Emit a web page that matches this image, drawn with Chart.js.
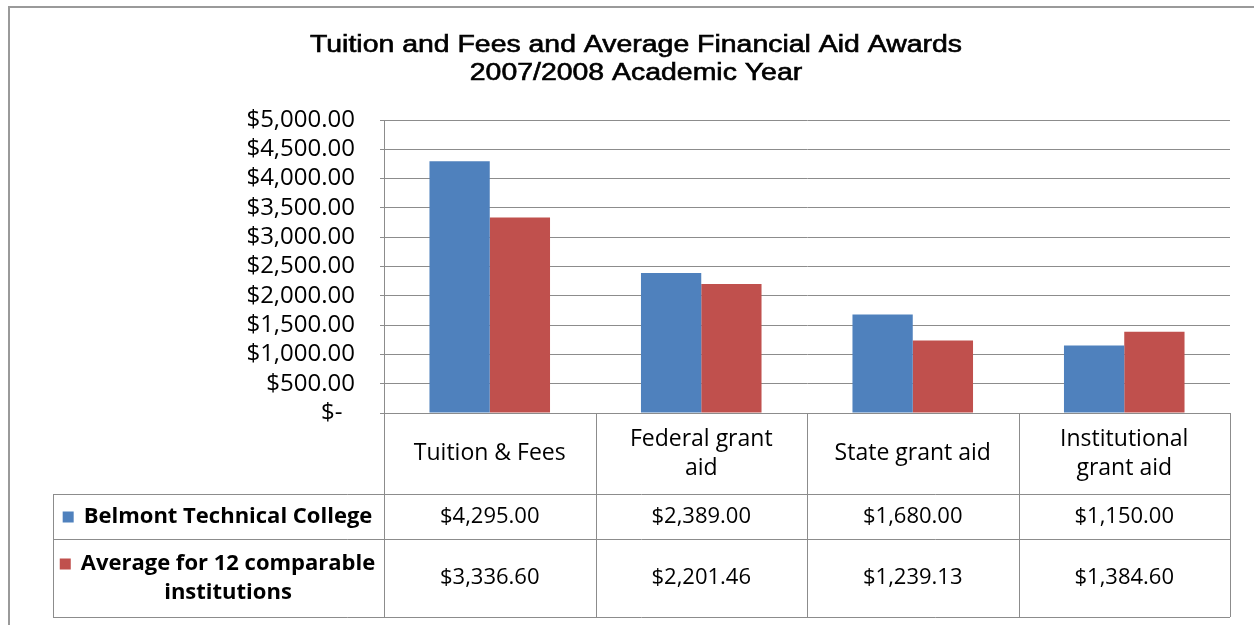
<!DOCTYPE html>
<html>
<head>
<meta charset="utf-8">
<title>Tuition and Fees and Average Financial Aid Awards</title>
<script src="https://cdn.jsdelivr.net/npm/chart.js@4"></script>
<style>
  html, body { margin:0; padding:0; background:#fff; }
  #wrap { position:relative; width:1254px; height:625px; }
  #frame { position:absolute; left:8px; top:6px; width:1260px; height:640px; border:2px solid #9a9a9a; border-right:none; border-bottom:none; box-sizing:border-box; }
  canvas { position:absolute; left:0; top:0; }
</style>
</head>
<body>
<div id="wrap">
  <div id="frame"></div>
  <canvas id="chart" width="1254" height="625"></canvas>
</div>
<script>
// ── data ────────────────────────────────────────────────────────────────────
const TITLE = ["Tuition and Fees and Average Financial Aid Awards", "2007/2008 Academic Year"];
const CATEGORIES = [["Tuition & Fees"], ["Federal grant", "aid"], ["State grant aid"], ["Institutional", "grant aid"]];
const SERIES_NAMES = [["Belmont Technical College"], ["Average for 12 comparable", "institutions"]];
const BELMONT = [4295.00, 2389.00, 1680.00, 1150.00];
const AVERAGE = [3336.60, 2201.46, 1239.13, 1384.60];
const COLORS = ["#4f81bd", "#c0504d"];
const Y_MAX = 5000, Y_STEP = 500;

const GRID = "#8c8c8c";
const TEXT = "#000";
const money = v => "$" + v.toLocaleString("en-US", { minimumFractionDigits:2, maximumFractionDigits:2 });

// row layout of the data table under the plot (offsets from the x axis)
const ROW_H = [81, 45, 78];
const LABEL_LEFT = 53;

const tablePlugin = {
  id: "dataTable",
  afterDraw(chart){
    const { ctx, chartArea: a, scales:{ x } } = chart;
    const n = CATEGORIES.length;
    const w = (a.right - a.left) / n;
    const y0 = a.bottom, y1 = y0 + ROW_H[0], y2 = y1 + ROW_H[1], y3 = y2 + ROW_H[2];
    ctx.save();

    // title (the source picture is a bit stretched sideways)
    ctx.fillStyle = TEXT;
    ctx.textAlign = "center"; ctx.textBaseline = "middle";
    ctx.font = "23px 'Liberation Sans', Arial, sans-serif";
    const sx = 652 / ctx.measureText(TITLE[0]).width;
    ctx.save();
    ctx.translate(636, 0); ctx.scale(sx, 1);
    ctx.lineWidth = 0.6; ctx.strokeStyle = TEXT;
    TITLE.forEach((t, k) => { ctx.fillText(t, 0, 46 + k * 28); ctx.strokeText(t, 0, 46 + k * 28); });
    ctx.restore();

    // grid of the table
    ctx.strokeStyle = GRID; ctx.lineWidth = 1;
    ctx.beginPath();
    [y1, y2, y3].forEach(y => { ctx.moveTo(LABEL_LEFT, y + .5); ctx.lineTo(a.right, y + .5); });
    for (let i = 0; i <= n; i++){
      const xx = Math.round(a.left + i * w) + .5;
      ctx.moveTo(xx, y0); ctx.lineTo(xx, y3);
    }
    ctx.moveTo(LABEL_LEFT + .5, y1); ctx.lineTo(LABEL_LEFT + .5, y3);
    ctx.stroke();

    // category headers
    ctx.fillStyle = TEXT;
    ctx.font = "23px 'Open Sans', sans-serif";
    CATEGORIES.forEach((lines, i) => {
      const cx = x.getPixelForValue(i);
      const mid = (y0 + y1) / 2;
      lines.forEach((t, k) => ctx.fillText(t, cx, mid + (k - (lines.length - 1) / 2) * 29));
    });

    // values
    ctx.font = "22px 'Open Sans', sans-serif";
    [BELMONT, AVERAGE].forEach((vals, r) => {
      const mid = r === 0 ? (y1 + y2) / 2 : (y2 + y3) / 2;
      vals.forEach((v, i) => ctx.fillText(money(v), x.getPixelForValue(i), mid));
    });

    // series labels with legend keys
    ctx.font = "bold 22px 'Open Sans', sans-serif";
    SERIES_NAMES.forEach((lines, r) => {
      const top = r === 0 ? y1 : y2, bot = r === 0 ? y2 : y3;
      const mid = (top + bot) / 2;
      const tw = ctx.measureText(lines[0]).width;
      const cx = 228;
      const left = cx - tw / 2;
      lines.forEach((t, k) => {
        ctx.fillStyle = TEXT;
        ctx.fillText(t, cx, mid + (k - (lines.length - 1) / 2) * 29);
      });
      const ky = mid - (lines.length - 1) / 2 * 29;
      ctx.fillStyle = COLORS[r];
      ctx.fillRect(left - 21, ky - 5, 11, 11);
    });
    ctx.restore();
  }
};

new Chart(document.getElementById("chart"), {
  type: "bar",
  data: {
    labels: CATEGORIES,
    datasets: [
      { label: SERIES_NAMES[0].join(" "), data: BELMONT, backgroundColor: COLORS[0] },
      { label: SERIES_NAMES[1].join(" "), data: AVERAGE, backgroundColor: COLORS[1] },
    ],
  },
  options: {
    responsive: false, animation: false,
    layout: { padding: { top: 120, bottom: 212, left: 0, right: 24 } },
    datasets: { bar: { categoryPercentage: 0.57, barPercentage: 1 } },
    plugins: { legend: { display: false }, title: { display: false }, tooltip: { enabled: false } },
    scales: {
      x: {
        afterFit: s => { s.height = 0; },
        ticks: { display: false },
        grid: { display: false },
        border: { color: GRID, width: 1 },
      },
      y: {
        min: 0, max: Y_MAX,
        afterFit: s => { s.width = 384; },
        ticks: {
          stepSize: Y_STEP, padding: 25, color: TEXT, autoSkip: false,
          font: { family: "'Open Sans', sans-serif", size: 24 },
          callback: v => v === 0 ? "$-  " : money(v),
        },
        grid: { color: GRID, tickLength: 4 },
        border: { color: GRID, width: 1 },
      },
    },
  },
  plugins: [tablePlugin],
});
</script>
</body>
</html>
